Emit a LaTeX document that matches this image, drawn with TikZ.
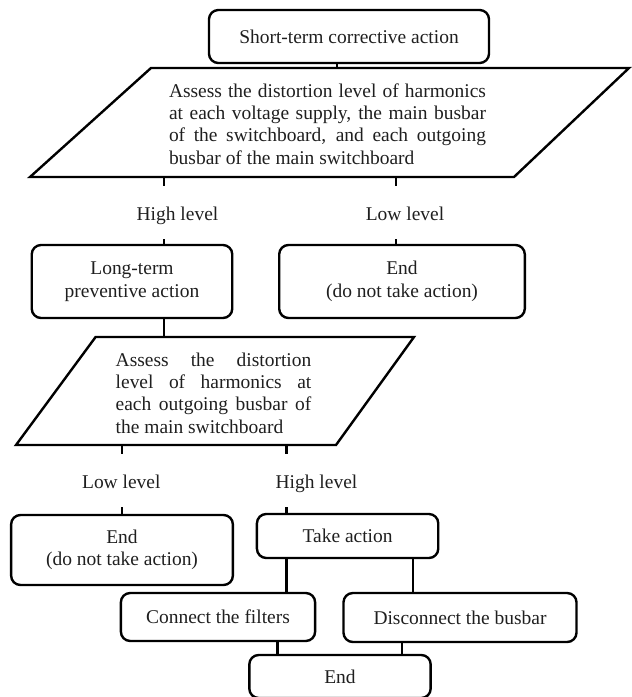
\documentclass[tikz,border=0pt]{standalone}
\usepackage{fontspec}
\setmainfont{Liberation Serif}
\hbadness=10000
\begin{document}
\begin{tikzpicture}[x=0.75pt,y=-0.75pt,line width=1.8pt,
  font=\fontsize{14.6}{16.8}\selectfont,text=black!88,
  box/.style={draw,rounded corners=7pt,inner sep=0pt,align=center},
  lvl/.style={inner sep=0pt,text height=11.25pt,text depth=0pt,minimum height=38.25pt}]
\useasboundingbox (0,0) rectangle (632,697);
\node (start) at (349,36.5) [box,minimum width=210pt,minimum height=39.75pt] {Short-term corrective action};
\coordinate (p1nw) at (151,68);
\coordinate (p1ne) at (629,68);
\coordinate (p1se) at (514,177);
\coordinate (p1sw) at (30,177);
\draw (p1nw) -- (p1ne) -- (p1se) -- (p1sw) -- cycle;
\node (assA) at (327.5,124) [text width=237.75pt,align=justify,inner sep=0pt] {Assess the distortion level of harmonics\linebreak at each voltage supply, the main busbar\linebreak of the switchboard, and each outgoing\linebreak busbar of the main switchboard};
\node (hiA) at (177.5,212.5) [lvl] {High level};
\node (loA) at (405,212.5) [lvl] {Low level};
\node (long) at (132,281.5) [box,minimum width=150.4pt,minimum height=54.75pt] {Long-term\\preventive action};
\node (endA) at (402,281.5) [box,minimum width=184.2pt,minimum height=54.75pt] {End\\(do not take action)};
\coordinate (p2nw) at (95.6,337);
\coordinate (p2ne) at (414,337);
\coordinate (p2se) at (336,445);
\coordinate (p2sw) at (16,445);
\draw (p2nw) -- (p2ne) -- (p2se) -- (p2sw) -- cycle;
\node (assB) at (213.5,393) [text width=146.7pt,align=justify,inner sep=0pt] {Assess the distortion\linebreak level of harmonics at\linebreak each outgoing busbar of\linebreak the main switchboard};
\node (loB) at (121.3,480.5) [lvl] {Low level};
\node (hiB) at (316.5,480.5) [lvl] {High level};
\node (endB) at (122,550) [box,minimum width=166.3pt,minimum height=52.5pt] {End\\(do not take action)};
\node (take) at (347.6,536) [box,minimum width=136pt,minimum height=33pt] {Take action};
\node (filt) at (218,617) [box,minimum width=145.7pt,minimum height=36pt] {Connect the filters};
\node (disc) at (460,617.5) [box,minimum width=174.75pt,minimum height=36.75pt] {Disconnect the busbar};
\node (stop) at (340,676.5) [box,minimum width=136pt,minimum height=32.25pt] {End};
% connectors
\coordinate (p1t) at (337,68);
\draw (start.south -| p1t) -- (p1t);
\coordinate (p1l) at (164,177);
\coordinate (p1r) at (396,177);
\draw (p1l) -- (p1l |- hiA.north);
\draw (p1l |- hiA.south) -- (p1l |- long.north);
\draw (p1r) -- (p1r |- loA.north);
\draw (p1r |- loA.south) -- (p1r |- endA.north);
\coordinate (p2t) at (164,337);
\draw (p2t |- long.south) -- (p2t);
\coordinate (p2l) at (122,445);
\coordinate (p2r) at (286.5,445);
\draw (p2l) -- (p2l |- loB.north);
\draw (p2l |- loB.south) -- (p2l |- endB.north);
\draw (p2r) -- (p2r |- hiB.north);
\draw (p2r |- hiB.south) -- (p2r |- take.north);
\draw (p2r |- take.south) -- (p2r |- filt.north);
\coordinate (tr) at ([xshift=49pt]take.south);
\draw (tr) -- (tr |- disc.north);
\coordinate (sl) at ([xshift=-47pt]stop.north);
\coordinate (sr) at ([xshift=46.5pt]stop.north);
\draw (sl |- filt.south) -- (sl);
\draw (sr |- disc.south) -- (sr);
\end{tikzpicture}
\end{document}
